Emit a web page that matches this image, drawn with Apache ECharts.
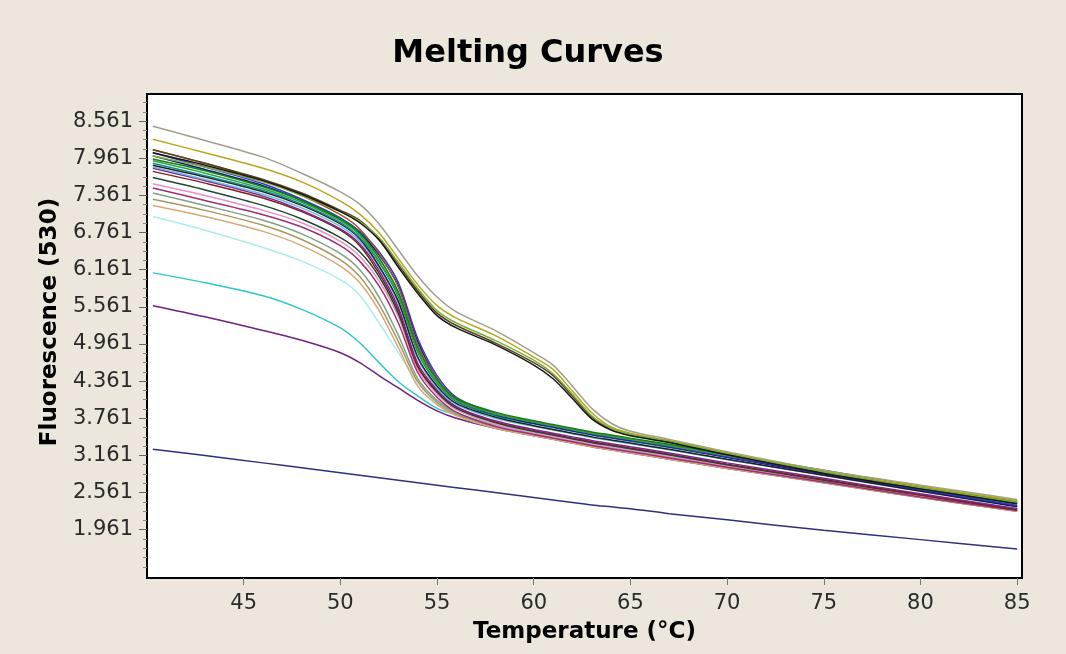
<!DOCTYPE html>
<html>
<head>
<meta charset="utf-8">
<script src="https://cdn.jsdelivr.net/npm/echarts@6/dist/echarts.min.js"></script>
<style>
  html, body { margin: 0; padding: 0; background: #ece6dc; }
  #chart { width: 1066px; height: 654px; }
</style>
</head>
<body>
<div id="chart"></div>
<script>
const temps = [40.3, 43, 46, 48, 50, 51, 52, 53, 54, 55, 56, 58, 60, 61, 62, 63, 64, 65, 67, 70, 75, 80, 85]

// two-step melting curves
const twoStepGray   = [8.48, 8.25, 7.98, 7.72, 7.42, 7.22, 6.90, 6.48, 6.06, 5.72, 5.48, 5.18, 4.82, 4.62, 4.28, 3.92, 3.68, 3.55, 3.42, 3.22, 2.92, 2.68, 2.45]
const twoStepOlive  = [8.27, 8.05, 7.80, 7.58, 7.27, 7.06, 6.76, 6.34, 5.92, 5.58, 5.38, 5.10, 4.75, 4.55, 4.20, 3.85, 3.62, 3.52, 3.40, 3.20, 2.90, 2.66, 2.43]
const twoStepBlack  = [8.05, 7.85, 7.60, 7.38, 7.10, 6.92, 6.64, 6.20, 5.78, 5.42, 5.22, 4.95, 4.62, 4.40, 4.08, 3.75, 3.57, 3.48, 3.37, 3.17, 2.87, 2.62, 2.38]
const twoStepLime   = [8.00, 7.82, 7.58, 7.36, 7.10, 6.94, 6.68, 6.28, 5.86, 5.50, 5.30, 5.02, 4.70, 4.48, 4.15, 3.80, 3.60, 3.50, 3.39, 3.19, 2.89, 2.64, 2.40]
const twoStepBrown  = [8.10, 7.88, 7.62, 7.40, 7.12, 6.96, 6.66, 6.24, 5.82, 5.46, 5.26, 4.98, 4.66, 4.45, 4.12, 3.78, 3.58, 3.49, 3.38, 3.18, 2.88, 2.63, 2.39]

// single-step melting curves
const curveGreen    = [7.95, 7.76, 7.50, 7.28, 6.98, 6.75, 6.35, 5.80, 4.90, 4.38, 4.08, 3.86, 3.72, 3.66, 3.60, 3.54, 3.49, 3.44, 3.34, 3.18, 2.92, 2.66, 2.42]
const curveGreen2   = [7.92, 7.72, 7.47, 7.25, 6.95, 6.72, 6.30, 5.75, 4.85, 4.34, 4.05, 3.83, 3.70, 3.64, 3.58, 3.52, 3.47, 3.42, 3.32, 3.16, 2.90, 2.64, 2.40]
const curveNavy     = [8.00, 7.78, 7.52, 7.28, 6.98, 6.76, 6.40, 5.90, 5.00, 4.40, 4.06, 3.82, 3.68, 3.62, 3.56, 3.50, 3.45, 3.40, 3.30, 3.13, 2.86, 2.60, 2.34]
const curveBlue     = [8.05, 7.82, 7.55, 7.30, 7.00, 6.78, 6.45, 5.95, 5.05, 4.45, 4.10, 3.84, 3.70, 3.63, 3.57, 3.51, 3.46, 3.41, 3.31, 3.14, 2.87, 2.61, 2.35]
const curveBlack    = [7.85, 7.66, 7.42, 7.20, 6.90, 6.66, 6.22, 5.65, 4.75, 4.28, 4.00, 3.78, 3.64, 3.58, 3.52, 3.46, 3.41, 3.36, 3.26, 3.10, 2.84, 2.58, 2.33]
const curvePurple   = [7.80, 7.60, 7.35, 7.12, 6.82, 6.58, 6.15, 5.55, 4.65, 4.22, 3.95, 3.72, 3.58, 3.52, 3.46, 3.40, 3.35, 3.30, 3.20, 3.04, 2.79, 2.54, 2.30]
const curveMaroon   = [7.75, 7.56, 7.32, 7.10, 6.80, 6.55, 6.10, 5.50, 4.60, 4.20, 3.94, 3.70, 3.56, 3.50, 3.44, 3.38, 3.33, 3.28, 3.18, 3.02, 2.77, 2.52, 2.28]
const curveTeal     = [7.88, 7.68, 7.44, 7.22, 6.92, 6.68, 6.28, 5.72, 4.83, 4.32, 4.03, 3.80, 3.67, 3.61, 3.55, 3.49, 3.44, 3.39, 3.29, 3.13, 2.88, 2.62, 2.38]
const curveSky      = [7.82, 7.62, 7.38, 7.16, 6.86, 6.62, 6.20, 5.62, 4.73, 4.25, 3.98, 3.76, 3.63, 3.57, 3.51, 3.45, 3.40, 3.35, 3.25, 3.09, 2.84, 2.59, 2.35]
const curvePink     = [7.55, 7.36, 7.12, 6.92, 6.62, 6.38, 5.98, 5.40, 4.55, 4.15, 3.90, 3.66, 3.52, 3.46, 3.40, 3.34, 3.29, 3.24, 3.14, 2.98, 2.74, 2.50, 2.27]
const curveDkGreen  = [7.65, 7.45, 7.20, 6.98, 6.68, 6.45, 6.05, 5.45, 4.60, 4.18, 3.92, 3.69, 3.55, 3.49, 3.43, 3.37, 3.32, 3.27, 3.17, 3.01, 2.76, 2.52, 2.29]
const curveMagenta  = [7.48, 7.28, 7.05, 6.85, 6.55, 6.30, 5.90, 5.30, 4.50, 4.10, 3.86, 3.63, 3.50, 3.44, 3.38, 3.32, 3.27, 3.22, 3.12, 2.97, 2.73, 2.49, 2.27]
const curveKhaki    = [7.30, 7.12, 6.88, 6.65, 6.32, 6.05, 5.60, 5.00, 4.35, 4.02, 3.82, 3.62, 3.50, 3.44, 3.38, 3.32, 3.27, 3.22, 3.12, 2.97, 2.73, 2.49, 2.27]
const curveTan      = [7.20, 7.02, 6.78, 6.55, 6.22, 5.95, 5.50, 4.90, 4.28, 3.98, 3.80, 3.60, 3.48, 3.42, 3.36, 3.30, 3.25, 3.20, 3.10, 2.95, 2.72, 2.48, 2.26]
const curveSage     = [7.40, 7.20, 6.96, 6.74, 6.42, 6.16, 5.72, 5.10, 4.40, 4.05, 3.85, 3.64, 3.51, 3.45, 3.39, 3.33, 3.28, 3.23, 3.13, 2.98, 2.74, 2.50, 2.28]
const curveRust     = [8.10, 7.88, 7.60, 7.36, 7.05, 6.82, 6.42, 5.88, 4.95, 4.40, 4.08, 3.84, 3.70, 3.64, 3.58, 3.52, 3.47, 3.42, 3.32, 3.16, 2.90, 2.64, 2.40]

// low-start curves
const curveAqua     = [7.02, 6.80, 6.52, 6.30, 6.00, 5.75, 5.30, 4.82, 4.35, 4.00, 3.84, 3.68, 3.55, 3.49, 3.43, 3.37, 3.32, 3.27, 3.17, 3.01, 2.77, 2.53, 2.30]
const curveCyan     = [6.11, 5.95, 5.74, 5.52, 5.22, 4.98, 4.66, 4.35, 4.12, 3.92, 3.82, 3.66, 3.54, 3.48, 3.42, 3.36, 3.31, 3.26, 3.16, 3.00, 2.76, 2.52, 2.30]
const curveViolet   = [5.58, 5.40, 5.18, 5.02, 4.82, 4.66, 4.45, 4.25, 4.05, 3.88, 3.76, 3.60, 3.48, 3.42, 3.36, 3.30, 3.25, 3.20, 3.10, 2.95, 2.72, 2.48, 2.26]
const curveBaseline = [3.26, 3.16, 3.04, 2.96, 2.88, 2.84, 2.80, 2.76, 2.72, 2.68, 2.64, 2.56, 2.48, 2.44, 2.40, 2.36, 2.33, 2.30, 2.22, 2.12, 1.95, 1.80, 1.65]

const curves = [
  curveAqua, curveCyan, curveViolet, curveBaseline,
  curveKhaki, curveTan, curveSage, curvePink, curveMagenta, curveDkGreen,
  curveMaroon, curvePurple, curveSky, curveBlack, curveTeal, curveNavy, curveBlue, curveRust,
  curveGreen2, curveGreen,
  twoStepGray, twoStepOlive, twoStepBrown, twoStepLime, twoStepBlack
]
const colors = [
  '#a8eef0', '#30c8c8', '#702080', '#303080',
  '#a89860', '#d8a878', '#80a088', '#e890c8', '#a03070', '#1a4a30',
  '#802020', '#782890', '#70b8e0', '#202020', '#108888', '#101080', '#3838c8', '#a05830',
  '#30a048', '#108010',
  '#a0a090', '#b8a820', '#5a4018', '#78b040', '#181818'
]

const yTicks = [1.961, 2.561, 3.161, 3.761, 4.361, 4.961, 5.561, 6.161, 6.761, 7.361, 7.961, 8.561]
const yMinorTicks = [1.361, 1.511, 1.661, 1.811, 2.111, 2.261, 2.411, 2.711, 2.861, 3.011, 3.311, 3.461, 3.611,
  3.911, 4.061, 4.211, 4.511, 4.661, 4.811, 5.111, 5.261, 5.411, 5.711, 5.861, 6.011, 6.311, 6.461, 6.611,
  6.911, 7.061, 7.211, 7.511, 7.661, 7.811, 8.111, 8.261, 8.411, 8.711, 8.861]
const xTicks = [45, 50, 55, 60, 65, 70, 75, 80, 85]

const chart = echarts.init(document.getElementById('chart'), null, { renderer: 'canvas' })

const labelFont = { fontFamily: 'DejaVu Sans', fontSize: 21, color: '#2a2a2a' }
const nameFont = { fontFamily: 'DejaVu Sans', fontSize: 23, fontWeight: 'bold', color: '#000' }

chart.setOption({
  animation: false,
  backgroundColor: '#ece6dc',
  title: {
    text: 'Melting Curves',
    left: 523,
    top: 33,
    textAlign: 'center',
    textStyle: { fontFamily: 'DejaVu Sans', fontSize: 32, fontWeight: 'bold', color: '#000' }
  },
  grid: {
    left: 147, right: 44, top: 94, bottom: 76,
    show: true,
    backgroundColor: '#fff',
    borderColor: '#000',
    borderWidth: 2
  },
  xAxis: {
    type: 'value',
    min: 40,
    max: 85.25,
    interval: 5,
    name: 'Temperature (°C)',
    nameLocation: 'middle',
    nameGap: 43,
    nameTextStyle: nameFont,
    axisLine: { show: false },
    axisTick: { show: true, length: 7, customValues: xTicks, lineStyle: { color: '#777' } },
    axisLabel: { customValues: xTicks, margin: 15, ...labelFont },
    splitLine: { show: false }
  },
  yAxis: [
    {
      type: 'value',
      min: 1.18,
      max: 9.0,
      name: 'Fluorescence (530)',
      nameLocation: 'middle',
      nameRotate: 90,
      nameGap: 84,
      nameTextStyle: { ...nameFont, padding: [0, 0, 0, 28] },
      axisLine: { show: false },
      axisTick: { show: true, length: 8, customValues: yTicks, lineStyle: { color: '#666' } },
      axisLabel: { customValues: yTicks, margin: 14, formatter: v => v.toFixed(3), ...labelFont },
      splitLine: { show: false }
    },
    {
      type: 'value',
      min: 1.18,
      max: 9.0,
      position: 'left',
      axisLine: { show: false },
      axisTick: { show: true, length: 4, customValues: yMinorTicks, lineStyle: { color: '#888' } },
      axisLabel: { show: false },
      splitLine: { show: false }
    }
  ],
  series: curves.map((vals, i) => ({
    type: 'line',
    yAxisIndex: 0,
    data: temps.map((t, j) => [t, vals[j]]),
    showSymbol: false,
    smooth: 0.3,
    lineStyle: { color: colors[i], width: 1.5 },
    silent: true
  }))
})
</script>
</body>
</html>
